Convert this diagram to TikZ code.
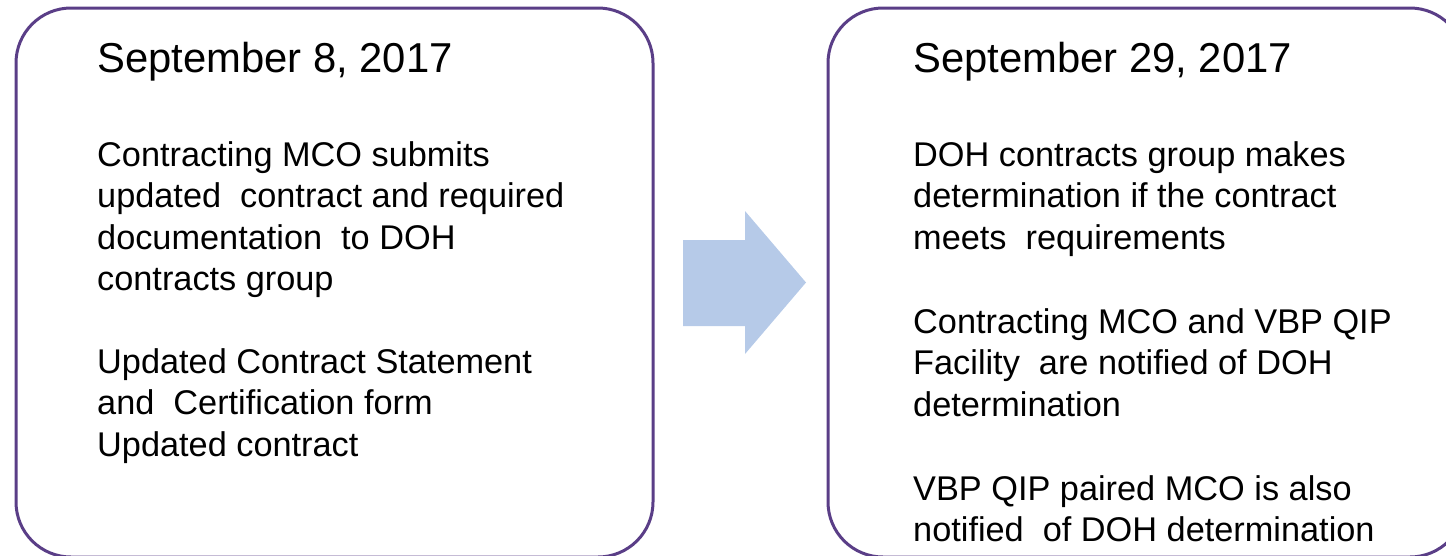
\documentclass[tikz,border=0pt]{standalone}
\usepackage{fontspec}
\setmainfont{Liberation Sans}
\definecolor{boxline}{RGB}{90,62,135}
\definecolor{arrowfill}{RGB}{182,202,232}
\begin{document}
\begin{tikzpicture}[x=1pt,y=-1pt,
  panel/.style={draw=boxline, line width=3pt, rounded corners=55pt},
  datetxt/.style={anchor=base west, inner sep=0pt, font=\fontsize{41.8}{48}\selectfont},
  bodytxt/.style={anchor=base west, inner sep=0pt, font=\fontsize{34.3}{41.5}\selectfont}]
\useasboundingbox (0,0) rectangle (1446,555);
\clip (0,0) rectangle (1446,555);
\draw[panel] (16,8) rectangle (653,557);
\draw[panel] (828,8) rectangle (1465,557);
\fill[arrowfill] (683,240) -- (745,240) -- (745,211) -- (806,282.5) -- (745,354) -- (745,326) -- (683,326) -- cycle;
% left panel
\node[datetxt] (lt) at (97,72) {September 8, 2017};
\node[bodytxt] (l1) at (97,166) {Contracting MCO submits};
\node[bodytxt] (l2) at (97,207.5) {updated~ contract and required};
\node[bodytxt] (l3) at (97,249) {documentation~ to DOH};
\node[bodytxt] (l4) at (97,290.5) {contracts group};
\node[bodytxt] (l5) at (97,373) {Updated Contract Statement};
\node[bodytxt] (l6) at (97,414.5) {and~ Certification form};
\node[bodytxt] (l7) at (97,456) {Updated contract};
% right panel
\node[datetxt] (rt) at (913,72) {September 29, 2017};
\node[bodytxt] (r1) at (913,166) {DOH contracts group makes};
\node[bodytxt] (r2) at (913,207.5) {determination if the contract};
\node[bodytxt] (r3) at (913,249) {meets~ requirements};
\node[bodytxt] (r4) at (913,333) {Contracting MCO and VBP QIP};
\node[bodytxt] (r5) at (913,374.5) {Facility~ are notified of DOH};
\node[bodytxt] (r6) at (913,416) {determination};
\node[bodytxt] (r7) at (913,500) {VBP QIP paired MCO is also};
\node[bodytxt] (r8) at (913,541.5) {notified~ of DOH determination};
\end{tikzpicture}
\end{document}
